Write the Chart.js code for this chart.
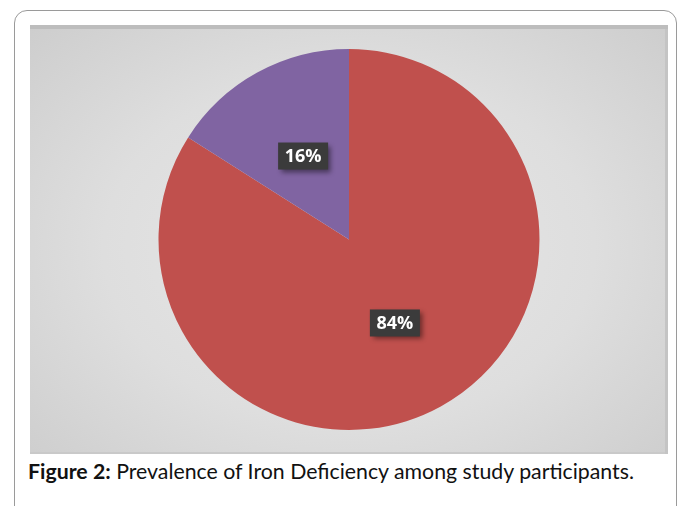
<!DOCTYPE html>
<html>
<head>
<meta charset="utf-8">
<script src="https://cdn.jsdelivr.net/npm/chart.js@4/dist/chart.umd.min.js"></script>
<style>
  html, body { margin: 0; padding: 0; background: #fff; }
  body { width: 685px; height: 506px; position: relative; overflow: hidden; }
  #frame {
    position: absolute; left: 14px; top: 10px; width: 663px; height: 520px;
    border: 1.5px solid #9a9a9a; border-radius: 13px; box-sizing: border-box;
  }
  #panel {
    position: absolute; left: 30px; top: 25px; width: 638px; height: 429px;
    background: radial-gradient(ellipse 70% 75% at 50% 52%, #e8e8e8 0%, #dedede 55%, #cdcdcd 100%);
    box-shadow: inset 0 4px 0 #bdbdbd, inset -3px 0 0 #c4c4c4, inset 0 -2px 0 #c9c9c9;
  }
  #caption {
    position: absolute; left: 28px; top: 458px;
    font-family: Lato, "Open Sans", sans-serif; font-size: 21.3px; color: #111;
    white-space: nowrap;
  }
</style>
</head>
<body>
<div id="frame"></div>
<div id="panel"><canvas id="grafico-ferro" width="638" height="429"></canvas></div>
<div id="caption"><b>Figure 2:</b> Prevalence of Iron Deficiency among study participants.</div>
<script>
var categorias = ['Deficiente', 'Normal'];
var valores = [84, 16];
var cores = ['#c0504d', '#8064a2'];

// etiquetas com caixa escura no centro de cada fatia
var rotulos = {
    id: 'rotulos',
    afterDatasetsDraw: function (chart) {
        var ctx = chart.ctx;
        var meta = chart.getDatasetMeta(0);
        var total = valores.reduce(function (a, b) { return a + b; }, 0);
        ctx.save();
        ctx.font = 'bold 18px "Open Sans", Lato, sans-serif';
        ctx.textAlign = 'center';
        ctx.textBaseline = 'middle';
        meta.data.forEach(function (arco, i) {
            var p = arco.getCenterPoint();
            var texto = Math.round(valores[i] / total * 100) + '%';
            var w = 50, h = 27;
            ctx.shadowColor = 'rgba(0,0,0,0.45)';
            ctx.shadowBlur = 5;
            ctx.shadowOffsetX = 3;
            ctx.shadowOffsetY = 3;
            ctx.fillStyle = '#3b3b3b';
            ctx.fillRect(p.x - w / 2, p.y - h / 2, w, h);
            ctx.shadowColor = 'transparent';
            ctx.fillStyle = '#ffffff';
            ctx.fillText(texto, p.x, p.y + 1);
        });
        ctx.restore();
    }
};

var graficoFerro = new Chart(document.getElementById('grafico-ferro').getContext('2d'), {
    type: 'pie',
    data: {
        labels: categorias,
        datasets: [{
            data: valores,
            backgroundColor: cores,
            borderWidth: 0
        }]
    },
    options: {
        responsive: false,
        animation: false,
        layout: { padding: 24 },
        plugins: {
            legend: { display: false },
            tooltip: { enabled: false }
        }
    },
    plugins: [rotulos]
});
</script>
</body>
</html>
